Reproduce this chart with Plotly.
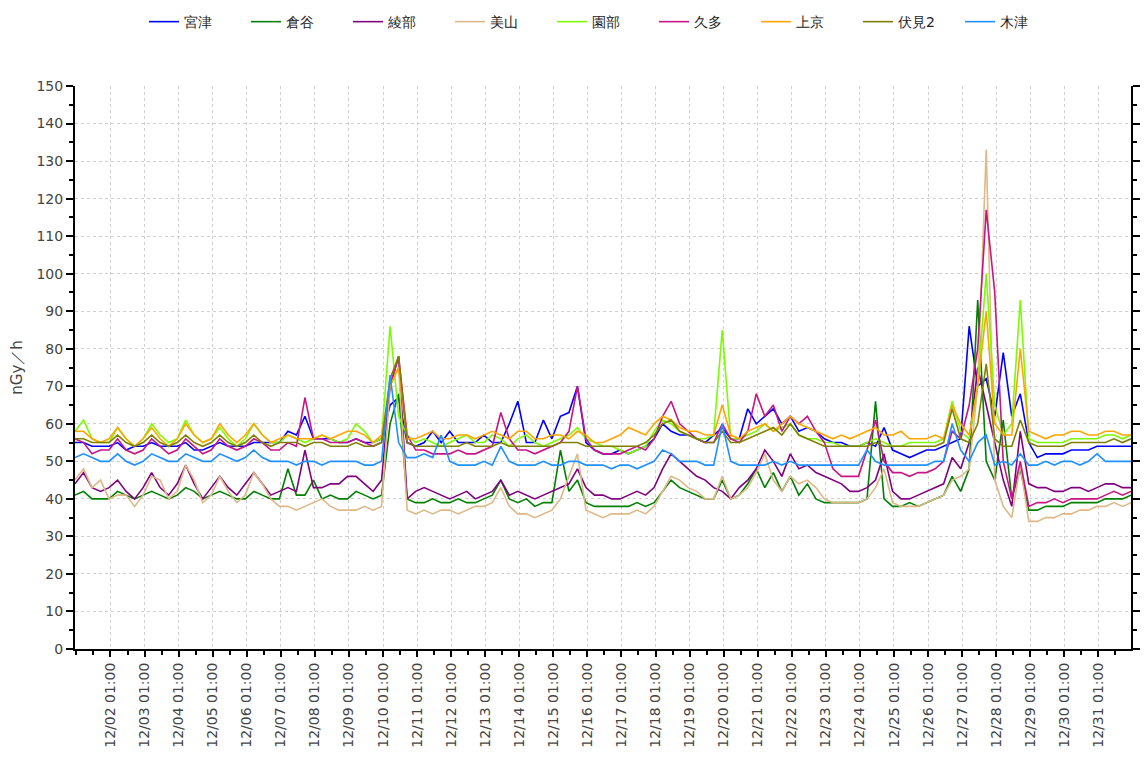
import pandas as pd
import plotly.graph_objects as go

# 6-hourly readings (00, 06, 12, 18 h) from 2023-12-01 00:00 to 2024-01-01 00:00
start_time = "2023-12-01 00:00"
n_points = 125
times = pd.date_range(start_time, periods=n_points, freq="6h")

series_names = ["宮津", "倉谷", "綾部", "美山", "園部", "久多", "上京", "伏見2", "木津"]

miyazu = [55, 55, 54, 54, 54, 55, 53, 54, 54, 55, 54, 54, 54, 55, 53, 53, 54, 55, 54, 54, 54, 55, 55, 55,
          55, 58, 57, 62, 56, 56, 56, 55, 55, 56, 55, 55, 56, 65, 67, 55, 54, 55, 58, 55, 58, 55, 55, 55,
          57, 55, 55, 60, 66, 55, 55, 61, 56, 62, 63, 70, 55, 53, 52, 52, 53, 52, 53, 54, 56, 60, 58, 57,
          57, 56, 55, 57, 59, 56, 56, 64, 60, 62, 64, 60, 62, 58, 59, 58, 56, 55, 55, 54, 54, 55, 54, 59,
          53, 52, 51, 52, 53, 53, 54, 55, 56, 86, 70, 72, 62, 79, 62, 68, 55, 51, 52, 52, 52, 53, 53, 53,
          54, 54, 54, 54, 54]
kuratani = [41, 42, 40, 40, 40, 42, 41, 40, 41, 42, 41, 40, 41, 43, 42, 40, 41, 42, 41, 40, 40, 42, 41, 40,
            40, 48, 41, 41, 45, 40, 41, 40, 40, 42, 41, 40, 41, 60, 68, 40, 39, 39, 40, 39, 39, 40, 39, 39,
            40, 41, 45, 40, 39, 40, 38, 39, 39, 53, 42, 45, 39, 38, 38, 38, 38, 38, 39, 38, 39, 42, 45, 43,
            42, 41, 40, 40, 45, 40, 41, 44, 48, 43, 47, 42, 46, 41, 44, 40, 39, 39, 39, 39, 39, 40, 66, 40,
            38, 38, 39, 38, 39, 40, 41, 46, 42, 48, 93, 50, 45, 61, 40, 48, 37, 37, 38, 38, 38, 39, 39, 39,
            39, 40, 40, 40, 41]
ayabe = [44, 47, 43, 42, 43, 45, 42, 40, 43, 47, 43, 41, 44, 49, 44, 40, 43, 46, 43, 41, 44, 47, 44, 41,
         42, 43, 42, 53, 43, 43, 44, 44, 46, 46, 44, 42, 45, 70, 78, 40, 42, 43, 42, 41, 40, 41, 42, 40,
         41, 42, 45, 41, 42, 41, 40, 41, 42, 43, 44, 48, 43, 41, 41, 40, 40, 41, 42, 41, 43, 48, 52, 50,
         48, 46, 45, 43, 42, 40, 43, 45, 48, 53, 50, 46, 52, 48, 49, 47, 46, 45, 44, 42, 42, 43, 45, 52,
         42, 40, 40, 41, 42, 43, 44, 51, 48, 55, 75, 65, 55, 45, 38, 58, 44, 43, 43, 42, 42, 43, 43, 42,
         43, 44, 44, 43, 43]
miyama = [45, 48, 43, 45, 40, 41, 41, 38, 41, 46, 45, 40, 42, 49, 45, 39, 41, 46, 42, 39, 41, 47, 44, 40,
          38, 38, 37, 38, 39, 40, 38, 37, 37, 37, 38, 37, 38, 70, 75, 37, 36, 37, 36, 37, 37, 36, 37, 38,
          38, 39, 43, 38, 36, 36, 35, 36, 37, 40, 46, 52, 37, 36, 35, 36, 36, 36, 37, 36, 38, 42, 46, 45,
          43, 42, 40, 40, 46, 40, 41, 43, 47, 52, 45, 42, 46, 44, 45, 43, 40, 39, 39, 39, 39, 40, 43, 48,
          39, 38, 38, 38, 39, 40, 41, 45, 46, 48, 70, 133, 45, 38, 35, 49, 34, 34, 35, 35, 36, 36, 37, 37,
          38, 38, 39, 38, 39]
sonobe = [58, 61, 56, 55, 55, 59, 56, 54, 56, 60, 57, 55, 56, 61, 57, 55, 56, 59, 56, 54, 56, 60, 57, 55,
          55, 57, 56, 55, 56, 57, 56, 55, 56, 60, 58, 55, 56, 86, 62, 57, 55, 56, 55, 54, 55, 56, 57, 55,
          55, 57, 56, 54, 56, 57, 55, 54, 55, 56, 57, 59, 56, 55, 54, 54, 53, 52, 53, 54, 58, 61, 60, 58,
          57, 56, 56, 57, 85, 56, 56, 57, 58, 60, 58, 59, 60, 57, 56, 56, 55, 55, 54, 54, 54, 55, 56, 55,
          54, 54, 55, 55, 55, 55, 56, 66, 58, 56, 70, 100, 65, 57, 60, 93, 56, 55, 55, 55, 55, 56, 56, 56,
          56, 57, 57, 56, 57]
kuta = [56, 55, 52, 53, 53, 56, 53, 52, 53, 56, 54, 52, 53, 56, 54, 52, 53, 56, 54, 53, 54, 56, 55, 53,
        53, 55, 54, 67, 56, 56, 55, 55, 55, 56, 55, 54, 55, 70, 78, 57, 53, 53, 52, 52, 52, 53, 52, 52,
        53, 54, 63, 56, 53, 53, 52, 53, 54, 55, 58, 70, 56, 53, 52, 52, 52, 53, 54, 53, 56, 62, 66, 60,
        58, 56, 55, 55, 60, 56, 55, 58, 68, 62, 65, 58, 62, 60, 62, 58, 55, 48, 46, 46, 46, 53, 61, 50,
        47, 47, 46, 47, 47, 48, 50, 58, 56, 65, 80, 117, 95, 50, 40, 50, 38, 39, 39, 40, 39, 40, 40, 40,
        40, 41, 42, 41, 42]
kamigyo = [58, 58, 56, 55, 56, 59, 56, 54, 56, 59, 56, 54, 56, 60, 57, 55, 56, 60, 57, 55, 57, 60, 57, 55,
           56, 57, 56, 56, 56, 57, 56, 57, 58, 58, 57, 55, 57, 70, 75, 56, 56, 57, 58, 56, 56, 57, 57, 56,
           57, 58, 57, 56, 58, 58, 56, 56, 57, 57, 56, 58, 57, 55, 55, 56, 57, 59, 58, 57, 60, 62, 61, 59,
           58, 58, 57, 57, 65, 57, 56, 58, 59, 60, 58, 60, 62, 60, 59, 58, 57, 56, 57, 56, 57, 58, 59, 57,
           57, 58, 56, 56, 56, 57, 56, 65, 60, 57, 70, 90, 60, 57, 57, 80, 58, 57, 56, 57, 57, 58, 58, 57,
           57, 58, 58, 57, 57]
fushimi2 = [56, 56, 55, 55, 55, 57, 55, 54, 55, 57, 55, 54, 55, 57, 55, 54, 55, 57, 55, 54, 55, 57, 55, 54,
            55, 55, 55, 54, 55, 55, 54, 54, 54, 55, 54, 54, 55, 72, 78, 55, 54, 54, 54, 54, 54, 54, 55, 54,
            54, 54, 55, 54, 54, 54, 54, 54, 54, 55, 55, 55, 54, 54, 54, 54, 54, 54, 54, 55, 57, 60, 61, 58,
            57, 56, 55, 55, 58, 55, 55, 56, 57, 58, 59, 57, 60, 57, 56, 55, 54, 54, 54, 54, 54, 54, 55, 54,
            54, 54, 54, 54, 54, 54, 55, 64, 56, 55, 60, 76, 56, 54, 54, 61, 55, 54, 54, 54, 54, 55, 55, 55,
            55, 55, 56, 55, 56]
kizu = [51, 52, 51, 50, 50, 52, 50, 49, 50, 52, 51, 50, 50, 52, 51, 50, 50, 52, 51, 50, 51, 53, 51, 50,
        50, 50, 49, 50, 50, 49, 50, 50, 50, 50, 49, 49, 50, 73, 55, 51, 51, 52, 51, 57, 50, 49, 49, 49,
        50, 49, 54, 50, 49, 49, 49, 50, 49, 49, 50, 50, 49, 49, 49, 48, 49, 49, 48, 49, 50, 53, 52, 50,
        50, 50, 49, 49, 60, 50, 49, 49, 49, 49, 50, 49, 50, 49, 49, 49, 49, 49, 49, 49, 49, 53, 50, 49,
        49, 49, 49, 49, 49, 50, 50, 60, 53, 50, 55, 57, 49, 50, 49, 52, 49, 49, 50, 49, 50, 50, 49, 50,
        52, 50, 50, 50, 50]

series_values = [miyazu, kuratani, ayabe, miyama, sonobe, kuta, kamigyo, fushimi2, kizu]
series_colors = ["#0000FF", "#008000", "#800080", "#DEB887", "#7CFC00", "#C71585", "#FFA500", "#808000", "#1E90FF"]

tick_dates = pd.date_range("2023-12-02 01:00", "2023-12-31 01:00", freq="D")
tick_labels = [d.strftime("%m/%d %H:%M") for d in tick_dates]

fig = go.Figure()
for name, vals, col in zip(series_names, series_values, series_colors):
    fig.add_trace(go.Scatter(x=times, y=vals, name=name, mode="lines",
                             line=dict(color=col, width=1.6)))

axis_font = dict(family="DejaVu Sans", size=14, color="#444444")
fig.update_layout(
    width=1145, height=769,
    margin=dict(l=75, r=5, t=86, b=120),
    paper_bgcolor="white", plot_bgcolor="white",
    font=dict(family="DejaVu Sans", size=14, color="#333333"),
    legend=dict(orientation="h", x=0.5, xanchor="center", y=1.142, yanchor="top",
                font=dict(family="DejaVu Sans", size=14, color="#222222"),
                entrywidth=57, entrywidthmode="pixels",
                bgcolor="rgba(0,0,0,0)"),
    showlegend=True,
)
fig.update_xaxes(
    type="date", range=["2023-12-01 00:00", "2024-01-01 00:00"],
    tickmode="array", tickvals=tick_dates, ticktext=tick_labels, tickangle=-90,
    tickfont=axis_font, ticks="outside", ticklen=6, tickwidth=2, tickcolor="black",
    showline=True, linecolor="black", linewidth=2, mirror=False,
    showgrid=True, gridcolor="#d0d0d0", griddash="3px,3px", gridwidth=1,
    minor=dict(ticks="outside", ticklen=4, tickwidth=2, tickcolor="black",
               dtick=12 * 3600 * 1000, tick0="2023-12-01 01:00", showgrid=False),
    zeroline=False,
)
fig.update_yaxes(
    range=[0, 150], dtick=10, tick0=0,
    tickfont=axis_font, ticks="outside", ticklen=7, tickwidth=2, tickcolor="black",
    showline=True, linecolor="black", linewidth=2, mirror="ticks",
    showgrid=True, gridcolor="#d0d0d0", griddash="3px,3px", gridwidth=1,
    minor=dict(ticks="outside", ticklen=4, tickwidth=2, tickcolor="black", dtick=5, showgrid=False),
    zeroline=False,
    title=dict(text="nGy／h", font=dict(family="DejaVu Sans", size=15, color="#444444"), standoff=10),
)
fig.write_html("out.html", config={"displayModeBar": False},
               post_script="document.body.style.margin='0';document.body.style.overflow='hidden';")
